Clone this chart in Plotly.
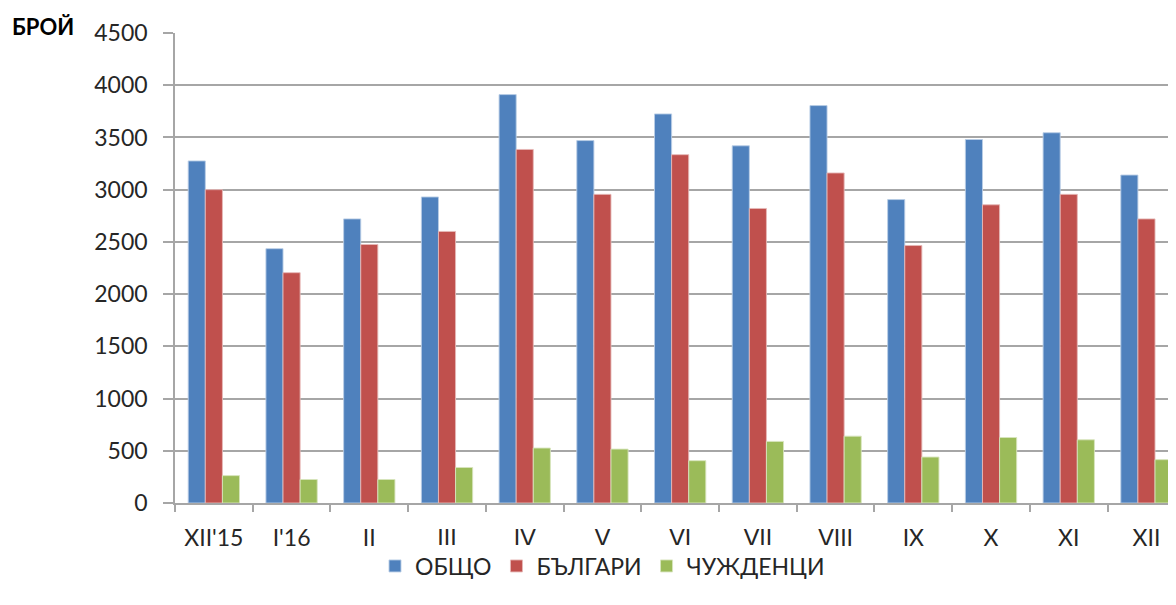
import plotly.graph_objects as go

categories = ["XII'15", "I'16", "II", "III", "IV", "V", "VI", "VII", "VIII", "IX", "X", "XI", "XII"]
obshto = [3275, 2435, 2720, 2930, 3910, 3470, 3725, 3420, 3805, 2905, 3480, 3545, 3140]
balgari = [3000, 2205, 2475, 2600, 3385, 2955, 3335, 2820, 3160, 2465, 2855, 2955, 2720]
chuzhdenci = [262, 225, 225, 340, 526, 516, 405, 590, 640, 440, 627, 605, 415]

series = [
    ("ОБЩО", obshto, "#4F81BD", "rgba(185,205,229,0.9)"),
    ("БЪЛГАРИ", balgari, "#C0504D", "rgba(230,184,183,0.9)"),
    ("ЧУЖДЕНЦИ", chuzhdenci, "#9BBB59", "rgba(215,228,189,0.9)"),
]

font_family = "Lato, 'Open Sans', sans-serif"
txt = "#262626"

# page body has an 8px margin; figure sized to fill the rest of the window
W, H = 1168, 597

fig = go.Figure()
for name, vals, color, edge in series:
    fig.add_trace(go.Bar(
        x=categories, y=vals, name=name,
        marker=dict(color=color, line=dict(color=edge, width=1)),
    ))

fig.update_layout(
    width=W, height=H,
    margin=dict(l=167, r=0, t=25, b=102, autoexpand=False),
    plot_bgcolor="white", paper_bgcolor="white",
    barmode="group", bargap=0.34, bargroupgap=0,
    font=dict(family=font_family, size=23, color=txt),
    legend=dict(orientation="h", x=594.5 / W, xref="container", xanchor="center",
                y=39 / H, yref="container", yanchor="middle",
                font=dict(size=23, color=txt), itemwidth=30,
                traceorder="normal"),
    showlegend=True,
)

fig.update_xaxes(
    type="category", range=[-0.5, 12.38], automargin=False,
    showline=True, linecolor="#A6A6A6", linewidth=1.5,
    ticks="outside", tickson="boundaries", ticklen=7, tickcolor="#A6A6A6", tickwidth=1.5,
    showgrid=False, tickfont=dict(size=23, color=txt),
    ticklabelstandoff=14,
)
fig.update_yaxes(
    range=[0, 4500], dtick=500, automargin=False,
    showline=True, linecolor="#A6A6A6", linewidth=1.5,
    ticks="outside", ticklen=10, tickcolor="#A6A6A6", tickwidth=1.5,
    showgrid=True, gridcolor="#A6A6A6", gridwidth=1.5,
    zeroline=False, tickfont=dict(size=23, color=txt),
    ticklabelstandoff=11,
)

fig.add_annotation(
    text="<b>БРОЙ</b>", xref="paper", yref="paper", x=-167 / 1001, y=1.0,
    xanchor="left", yanchor="middle", showarrow=False,
    xshift=2, yshift=7,
    font=dict(size=22, color="#000000", family=font_family),
)

fig.write_html("out.html")
